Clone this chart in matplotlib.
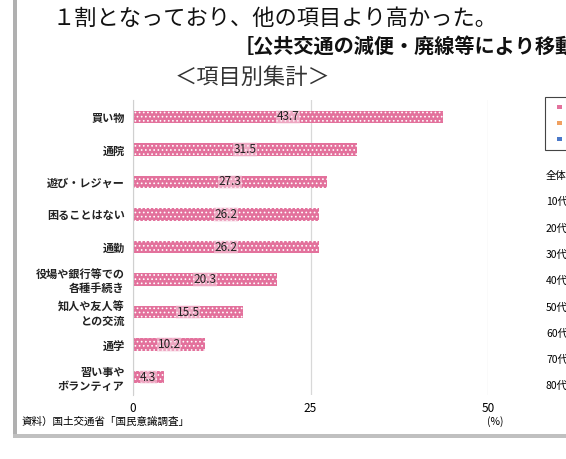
import matplotlib.pyplot as plt
from matplotlib.patches import Rectangle

plt.rcParams['font.family'] = ['Noto Sans CJK JP', 'DejaVu Sans']
plt.rcParams['hatch.color'] = 'white'
plt.rcParams['hatch.linewidth'] = 0.7

# data
categories = ['買い物', '通院', '遊び・レジャー', '困ることはない', '通勤',
              '役場や銀行等での\n各種手続き', '知人や友人等\nとの交流', '通学',
              '習い事や\nボランティア']
values = [43.7, 31.5, 27.3, 26.2, 26.2, 20.3, 15.5, 10.2, 4.3]
xticks = [0, 25, 50]
age_labels = ['全体', '10代', '20代', '30代', '40代', '50代', '60代', '70代', '80代']

W, H = 566, 459
fig = plt.figure(figsize=(W / 100, H / 100), dpi=100)


def fx(px):
    return px / W


def fy(py):
    return 1 - py / H


# page decoration
fig.add_artist(Rectangle((fx(13), fy(434)), fx(4), 434 / H, transform=fig.transFigure,
                         color='#b0b0b0', lw=0))
fig.add_artist(Rectangle((fx(13), fy(438)), 1, 4 / H, transform=fig.transFigure,
                         color='#c0c0c0', lw=0))

fig.text(fx(52), fy(18), '１割となっており、他の項目より高かった。', fontsize=16,
         va='center', ha='left', color='#111111')
fig.text(fx(234), fy(46), '［公共交通の減便・廃線等により移動', fontsize=14.5,
         fontweight='bold', va='center', ha='left', color='#111111')
fig.text(fx(175), fy(77), '＜項目別集計＞', fontsize=16, va='center', ha='left',
         color='#333333')

# chart
ax = fig.add_axes([fx(133), fy(395), fx(488) - fx(133), (395 - 100) / H])
y = list(range(len(categories)))
ax.barh(y, values, height=0.38, color='#e3719c', edgecolor='white', linewidth=0,
        hatch='....', zorder=2)
for yi, v in zip(y, values):
    ax.text(v / 2, yi, f'{v:.1f}', ha='center', va='center', fontsize=8.5,
            color='#222222', zorder=3,
            bbox=dict(boxstyle='square,pad=0.05', facecolor='#f8dbe6', alpha=0.5, lw=0))

ax.set_xlim(0, 50)
ax.set_ylim(8.55, -0.52)
ax.set_yticks(y)
ax.set_yticklabels(categories, fontsize=8, fontweight='bold', linespacing=1.1,
                   color='#222222')
ax.set_xticks(xticks)
ax.set_xticklabels([str(t) for t in xticks], fontsize=8.5)
ax.tick_params(axis='both', length=0)
ax.tick_params(axis='x', pad=5)
ax.tick_params(axis='y', pad=6)
for s in ['top', 'right', 'bottom']:
    ax.spines[s].set_visible(False)
ax.spines['left'].set_color('#d0d0d0')
ax.xaxis.grid(True, color='#d8d8d8', lw=0.9)
ax.set_axisbelow(True)

fig.text(fx(495), fy(422), '(%)', fontsize=7.5, ha='center', va='center')
fig.text(fx(22), fy(422), '資料）国土交通省「国民意識調査」', fontsize=7.6,
         ha='left', va='center')

# cut-off panel on the right
fig.add_artist(Rectangle((fx(545), fy(150)), fx(40), 53 / H, transform=fig.transFigure,
                         facecolor='white', edgecolor='#444444', lw=0.8))
for py, c in zip([107, 123, 139], ['#e3719c', '#f0a060', '#4a78c8']):
    fig.add_artist(Rectangle((fx(557), fy(py + 2)), fx(5), 4 / H,
                             transform=fig.transFigure, color=c, lw=0))
for i, lab in enumerate(age_labels):
    fig.text(fx(546), fy(176 + i * 26.3), lab, fontsize=7.5, ha='left', va='center')

fig.savefig('out.png', dpi=100, facecolor='white')
